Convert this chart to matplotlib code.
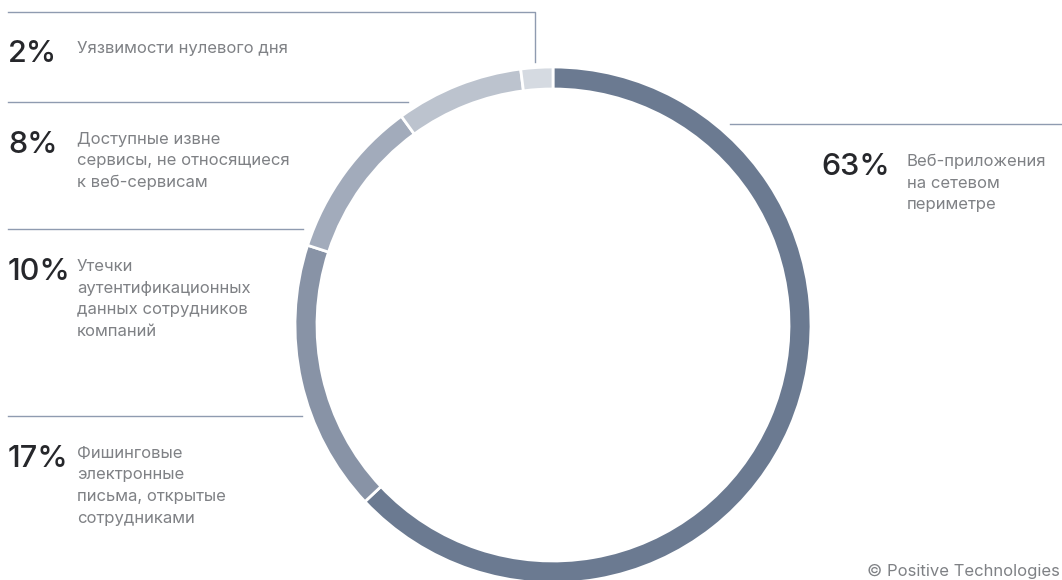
import matplotlib.pyplot as plt

# attack vectors, share of incidents
shares = [63, 17, 10, 8, 2]
pct_labels = ["63%", "17%", "10%", "8%", "2%"]
descriptions = [
    ["Веб-приложения", "на сетевом", "периметре"],
    ["Фишинговые", "электронные", "письма, открытые", "сотрудниками"],
    ["Утечки", "аутентификационных", "данных сотрудников", "компаний"],
    ["Доступные извне", "сервисы, не относящиеся", "к веб-сервисам"],
    ["Уязвимости нулевого дня"],
]
ring_colors = ["#6b7a91", "#8893a6", "#a2abbb", "#bcc3ce", "#d5dae1"]

W, H = 1062, 580
line_col = "#8f9bb0"
pct_col = "#26272b"
txt_col = "#7f8185"

plt.rcParams["font.family"] = ["Inter", "DejaVu Sans"]

fig = plt.figure(figsize=(W / 100, H / 100), dpi=100)
ax = fig.add_axes([0, 0, 1, 1])

# y axis runs downward, so counterclock=True draws clockwise on screen
ax.pie(shares, colors=ring_colors, center=(553, 325), radius=258,
       startangle=-90, counterclock=True,
       wedgeprops=dict(width=22, edgecolor="white", linewidth=2))
ax.set_xlim(0, W)
ax.set_ylim(H, 0)
ax.set_aspect("equal")
ax.axis("off")

# leader lines
ax.plot([8, 535, 535], [12, 12, 62], color=line_col, lw=1)
ax.plot([8, 408], [102, 102], color=line_col, lw=1)
ax.plot([8, 303], [229, 229], color=line_col, lw=1)
ax.plot([8, 302], [416, 416], color=line_col, lw=1)
ax.plot([730, W], [124, 124], color=line_col, lw=1)

# (x of percent, x of text, baseline of percent)
spots = [(821, 907, 175), (8, 77, 467), (8, 77, 280), (8, 77, 153), (8, 77, 62)]
for (xp, xt, yb), p, d in zip(spots, pct_labels, descriptions):
    ax.text(xp, yb, p, fontsize=22, fontweight="medium", color=pct_col,
            va="baseline", ha="left")
    for i, row in enumerate(d):
        ax.text(xt, yb - 9 + i * 21.5, row, fontsize=12, color=txt_col,
                va="baseline", ha="left")

ax.text(W - 2, 576, "© Positive Technologies", fontsize=12, color=txt_col,
        va="baseline", ha="right")

fig.savefig("out.png", dpi=100)
